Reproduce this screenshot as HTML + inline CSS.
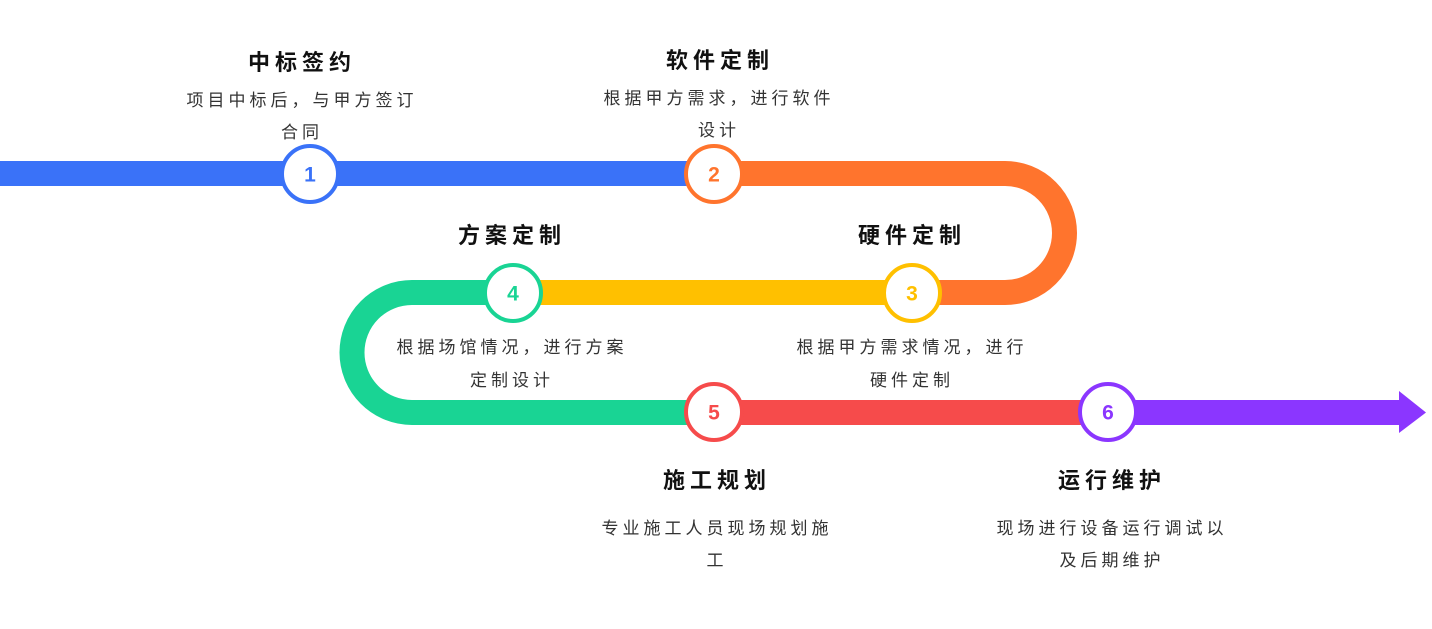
<!DOCTYPE html>
<html><head><meta charset="utf-8"><style>
html,body{margin:0;padding:0;background:#fff;}
svg{display:block}
text{font-family:"Liberation Sans","Noto Sans CJK SC",sans-serif;}
.t{font-size:22px;font-weight:bold;fill:#111;letter-spacing:5px;text-anchor:middle}
.d{font-size:17px;fill:#333;letter-spacing:4px;text-anchor:middle}
.n{font-size:21px;font-weight:bold;text-anchor:middle;dominant-baseline:central}
</style></head><body>
<svg width="1432" height="629" viewBox="0 0 1432 629" xmlns="http://www.w3.org/2000/svg">
<g fill="none" stroke-width="25">
<line x1="0" y1="173.5" x2="714" y2="173.5" stroke="#3a72f8"/>
<path d="M714 173.5 H1005 A59.5 59.5 0 0 1 1005 292.5 H912" stroke="#ff742d"/>
<line x1="912" y1="292.5" x2="513" y2="292.5" stroke="#ffc000"/>
<path d="M513 292.5 H412 A59.5 59.5 0 0 0 412 412.5 H714" stroke="#19d494"/>
<line x1="714" y1="412.5" x2="1108" y2="412.5" stroke="#f64b4b"/>
<line x1="1108" y1="412.5" x2="1402" y2="412.5" stroke="#8b36ff"/>
</g>
<polygon points="1399,391 1426,412.5 1399,433" fill="#8b36ff"/>
<g fill="#fff" stroke-width="4">
<circle cx="310" cy="174" r="28" stroke="#3a72f8"/>
<circle cx="714" cy="174" r="28" stroke="#ff742d"/>
<circle cx="912" cy="293" r="28" stroke="#ffc000"/>
<circle cx="513" cy="293" r="28" stroke="#19d494"/>
<circle cx="714" cy="412" r="28" stroke="#f64b4b"/>
<circle cx="1108" cy="412" r="28" stroke="#8b36ff"/>
</g>
<text class="n" x="310" y="175" fill="#3a72f8">1</text>
<text class="n" x="714" y="175" fill="#ff742d">2</text>
<text class="n" x="912" y="294" fill="#ffc000">3</text>
<text class="n" x="513" y="294" fill="#19d494">4</text>
<text class="n" x="714" y="413" fill="#f64b4b">5</text>
<text class="n" x="1108" y="413" fill="#8b36ff">6</text>

<text class="t" x="302" y="70">中标签约</text>
<text class="d" x="302" y="106">项目中标后，与甲方签订</text>
<text class="d" x="302" y="138">合同</text>

<text class="t" x="720" y="68">软件定制</text>
<text class="d" x="719" y="104">根据甲方需求，进行软件</text>
<text class="d" x="719" y="136">设计</text>

<text class="t" x="912" y="243">硬件定制</text>
<text class="d" x="912" y="353">根据甲方需求情况，进行</text>
<text class="d" x="912" y="386">硬件定制</text>

<text class="t" x="512" y="243">方案定制</text>
<text class="d" x="512" y="353">根据场馆情况，进行方案</text>
<text class="d" x="512" y="386">定制设计</text>

<text class="t" x="717" y="488">施工规划</text>
<text class="d" x="717" y="534">专业施工人员现场规划施</text>
<text class="d" x="717" y="566">工</text>

<text class="t" x="1112" y="488">运行维护</text>
<text class="d" x="1112" y="534">现场进行设备运行调试以</text>
<text class="d" x="1112" y="566">及后期维护</text>
</svg>
</body></html>
